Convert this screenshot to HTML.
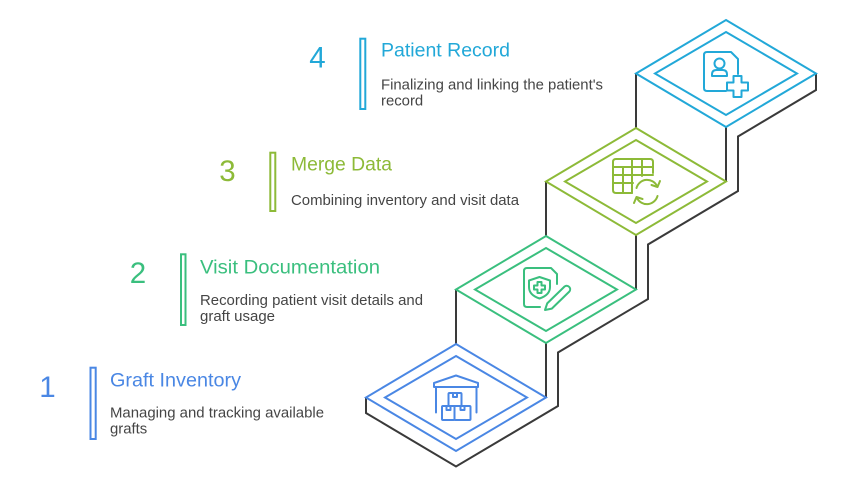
<!DOCTYPE html>
<html>
<head>
<meta charset="utf-8">
<style>
  html, body { margin: 0; padding: 0; background: #ffffff; }
  svg { display: block; }
  text { font-family: "Liberation Sans", Arial, sans-serif; }
</style>
</head>
<body>
<svg width="852" height="482" viewBox="0 0 852 482" xmlns="http://www.w3.org/2000/svg">
  <rect width="852" height="482" fill="#ffffff"/>

  <!-- dark staircase lines -->
  <g fill="none" stroke="#3a3a3a" stroke-width="2" stroke-linejoin="miter" stroke-linecap="butt">
    <polyline points="366,397.5 366,413 456,466.5 558,406 558,352.5 648,299 648,244.5 738,191 738,136.5 816,90 816,73.5"/>
    <line x1="456" y1="289.5" x2="456" y2="344"/>
    <line x1="546" y1="343" x2="546" y2="397.5"/>
    <line x1="546" y1="181.5" x2="546" y2="236"/>
    <line x1="636" y1="235" x2="636" y2="289.5"/>
    <line x1="636" y1="73.5" x2="636" y2="128"/>
    <line x1="726" y1="127" x2="726" y2="181.5"/>
  </g>

  <!-- Step 1 (blue) -->
  <g fill="none" stroke="#4a87e4" stroke-width="2" stroke-linejoin="miter">
    <polygon points="456,344 546,397.5 456,451 366,397.5" fill="#ffffff"/>
    <polygon points="456,356 527,397.5 456,439 385,397.5"/>
  </g>
  <g fill="none" stroke="#4a87e4" stroke-width="2" stroke-linejoin="round" stroke-linecap="round">
    <path d="M434,387 L434,383 L456,375.5 L478,383 L478,387 Z"/>
    <path d="M436,387 V412.5 M476.5,387 V412.5"/>
    <rect x="448.5" y="393" width="13" height="13" rx="1"/>
    <rect x="453" y="393" width="4" height="4"/>
    <rect x="442" y="406" width="12.5" height="14" rx="1"/>
    <rect x="454.5" y="406" width="16" height="14" rx="1"/>
    <rect x="446.5" y="406" width="4" height="4"/>
    <rect x="460.5" y="406" width="4" height="4"/>
  </g>

  <!-- Step 2 (green) -->
  <g fill="none" stroke="#3abf7e" stroke-width="2" stroke-linejoin="miter">
    <polygon points="546,236 636,289.5 546,343 456,289.5" fill="#ffffff"/>
    <polygon points="546,248 617,289.5 546,331 475,289.5"/>
  </g>
  <g fill="none" stroke="#3abf7e" stroke-width="2" stroke-linejoin="round" stroke-linecap="round">
    <path d="M540,307 H527 Q524,307 524,304 V271 Q524,268 527,268 H551 L557,274 V284"/>
    <path d="M539.5,277 L550,280.5 V287 Q550,295 539.5,298.5 Q529,295 529,287 V280.5 Z"/>
    <path d="M537.5,282 H541.5 V285.5 H545 V289.5 H541.5 V293 H537.5 V289.5 H534 V285.5 H537.5 Z"/>
    <path d="M564.7,286.4 L547.2,303.4 L545,310 L551.8,308.6 L569.3,291.6 A3.5,3.5 0 0 0 564.7,286.4 Z"/>
  </g>

  <!-- Step 3 (lime) -->
  <g fill="none" stroke="#8dba38" stroke-width="2" stroke-linejoin="miter">
    <polygon points="636,128 726,181.5 636,235 546,181.5" fill="#ffffff"/>
    <polygon points="636,140 707,181.5 636,223 565,181.5"/>
  </g>
  <g fill="none" stroke="#8dba38" stroke-width="2" stroke-linejoin="round" stroke-linecap="round">
    <path d="M653,173 V162 Q653,159 650,159 H616 Q613,159 613,162 V190 Q613,193 616,193 H632"/>
    <path d="M613,167 H653 M613,175 H653 M613,183 H633"/>
    <path d="M623,167 V193 M632,159 V193 M642,159 V176"/>
    <path d="M636.5,188 A11,11 0 0 1 657,186"/>
    <path d="M660,181 L657.5,187 L651.5,185"/>
    <path d="M657.5,196 A11,11 0 0 1 637,198"/>
    <path d="M634,203 L636.5,197 L642.5,199"/>
  </g>

  <!-- Step 4 (cyan) -->
  <g fill="none" stroke="#22a8d8" stroke-width="2" stroke-linejoin="miter">
    <polygon points="726,20 816,73.5 726,127 636,73.5" fill="#ffffff"/>
    <polygon points="726,32 797,73.5 726,115 655,73.5"/>
  </g>
  <g fill="none" stroke="#22a8d8" stroke-width="2" stroke-linejoin="round" stroke-linecap="round">
    <path d="M726,91 H707 Q704,91 704,88 V55 Q704,52 707,52 H731 L738,59 V74"/>
    <circle cx="719.5" cy="63.5" r="5"/>
    <path d="M712,76 V74.5 Q712,70 716.5,70 H722.5 Q727,70 727,74.5 V76 Z"/>
    <path d="M733.5,76 H741.5 V82.5 H748 V90.5 H741.5 V97 H733.5 V90.5 H727 V82.5 H733.5 Z"/>
  </g>

  <!-- Text: Step 1 -->
  <text x="47.5" y="397" font-size="29.5" fill="#4a87e4" text-anchor="middle">1</text>
  <rect x="90.5" y="367.7" width="5.2" height="71.3" fill="none" stroke="#4a87e4" stroke-width="2"/>
  <text x="110" y="386.7" font-size="19.5" fill="#4a87e4" textLength="131" lengthAdjust="spacingAndGlyphs">Graft Inventory</text>
  <text x="110" y="417.7" font-size="14.9" fill="#454545" textLength="214" lengthAdjust="spacingAndGlyphs">Managing and tracking available</text>
  <text x="110" y="433.5" font-size="14.9" fill="#454545">grafts</text>

  <!-- Text: Step 2 -->
  <text x="138" y="283" font-size="29.5" fill="#3abf7e" text-anchor="middle">2</text>
  <rect x="181" y="254.3" width="4.5" height="70.7" fill="none" stroke="#3abf7e" stroke-width="2"/>
  <text x="200" y="273.3" font-size="19.5" fill="#3abf7e" textLength="180" lengthAdjust="spacingAndGlyphs">Visit Documentation</text>
  <text x="200" y="305" font-size="14.9" fill="#454545" textLength="223" lengthAdjust="spacingAndGlyphs">Recording patient visit details and</text>
  <text x="200" y="321" font-size="14.9" fill="#454545" textLength="75" lengthAdjust="spacingAndGlyphs">graft usage</text>

  <!-- Text: Step 3 -->
  <text x="227.5" y="181" font-size="29.5" fill="#8dba38" text-anchor="middle">3</text>
  <rect x="270.3" y="152.7" width="5" height="58.3" fill="none" stroke="#8dba38" stroke-width="2"/>
  <text x="291" y="170.7" font-size="19.5" fill="#8dba38" textLength="101" lengthAdjust="spacingAndGlyphs">Merge Data</text>
  <text x="291" y="205" font-size="14.9" fill="#454545" textLength="228" lengthAdjust="spacingAndGlyphs">Combining inventory and visit data</text>

  <!-- Text: Step 4 -->
  <text x="317.5" y="67.7" font-size="29.5" fill="#22a8d8" text-anchor="middle">4</text>
  <rect x="360.3" y="38.7" width="5" height="70.3" fill="none" stroke="#22a8d8" stroke-width="2"/>
  <text x="381" y="56.7" font-size="19.5" fill="#22a8d8" textLength="129" lengthAdjust="spacingAndGlyphs">Patient Record</text>
  <text x="381" y="89.3" font-size="14.9" fill="#454545" textLength="222" lengthAdjust="spacingAndGlyphs">Finalizing and linking the patient's</text>
  <text x="381" y="105.7" font-size="14.9" fill="#454545">record</text>
</svg>
</body>
</html>
